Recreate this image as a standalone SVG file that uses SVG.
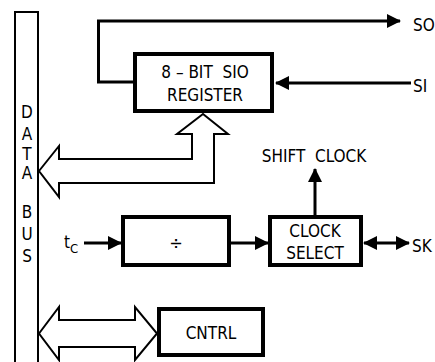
<svg xmlns="http://www.w3.org/2000/svg" width="435" height="362" viewBox="0 0 435 362">
<style>
text{font-family:"DejaVu Sans Condensed","DejaVu Sans","Liberation Sans",sans-serif;font-stretch:condensed;font-size:17px;fill:#000;white-space:pre}
.box{fill:#fff;stroke:#000;stroke-width:4}
.ln{fill:none;stroke:#000;stroke-width:3}
.bus{fill:#fff;stroke:#000;stroke-width:2;stroke-linejoin:miter}
.c{text-anchor:middle}
</style>
<defs>
<marker id="ah" viewBox="0 0 14 14" refX="13" refY="7" markerWidth="14" markerHeight="14" markerUnits="userSpaceOnUse" orient="auto-start-reverse">
<path d="M0,0 L14,7 L0,14 Z" fill="#000"/>
</marker>
</defs>
<g id="databus">
<rect x="15" y="12" width="23" height="360" fill="#fff" stroke="#000" stroke-width="2"/>
<text class="c" x="27" y="118">D</text>
<text class="c" x="27" y="140">A</text>
<text class="c" x="27" y="160">T</text>
<text class="c" x="27" y="179">A</text>
<text class="c" x="27" y="218">B</text>
<text class="c" x="27" y="240">U</text>
<text class="c" x="27" y="262">S</text>
</g>
<g id="connectors">
<polyline class="ln" points="133,82 98.5,82 98.5,21 400,21" marker-end="url(#ah)"/>
<line class="ln" x1="411" y1="83" x2="276" y2="83" marker-end="url(#ah)"/>
<path class="bus" d="M39,171 L59,146 L59,159 L192,159 L192,134 L177,134 L203,114 L228,134 L214,134 L214,183 L59,183 L59,197 Z"/>
<path class="bus" d="M39,333.5 L59,307 L59,320 L135,320 L135,307 L157,333.5 L135,360 L135,347 L59,347 L59,360 Z"/>
<line class="ln" x1="84" y1="243" x2="121" y2="243" marker-end="url(#ah)"/>
<line class="ln" x1="231" y1="243" x2="268" y2="243" marker-end="url(#ah)"/>
<line class="ln" x1="315" y1="215" x2="315" y2="169" marker-end="url(#ah)"/>
<line class="ln" x1="364" y1="243" x2="409" y2="243" marker-start="url(#ah)" marker-end="url(#ah)"/>
</g>
<g id="register">
<rect class="box" x="135" y="54" width="137" height="57"/>
<text class="c" x="205" y="78" xml:space="preserve">8 – BIT  SIO</text>
<text class="c" x="205" y="101">REGISTER</text>
</g>
<g id="divider">
<rect class="box" x="123" y="217" width="106" height="48"/>
<text class="c" x="176" y="249" style="font-size:18px">÷</text>
</g>
<g id="clockselect">
<rect class="box" x="270" y="217" width="91" height="48"/>
<text class="c" x="315" y="237">CLOCK</text>
<text class="c" x="315" y="259">SELECT</text>
</g>
<g id="cntrl">
<rect class="box" x="159" y="309" width="104" height="46"/>
<text class="c" x="211" y="339">CNTRL</text>
</g>
<g id="labels">
<text x="413" y="31">SO</text>
<text x="413" y="92">SI</text>
<text x="412" y="252">SK</text>
<text class="c" x="314" y="162" xml:space="preserve">SHIFT  CLOCK</text>
<text x="64" y="248">t<tspan style="font-size:13px" dy="5">C</tspan></text>
</g>
</svg>
